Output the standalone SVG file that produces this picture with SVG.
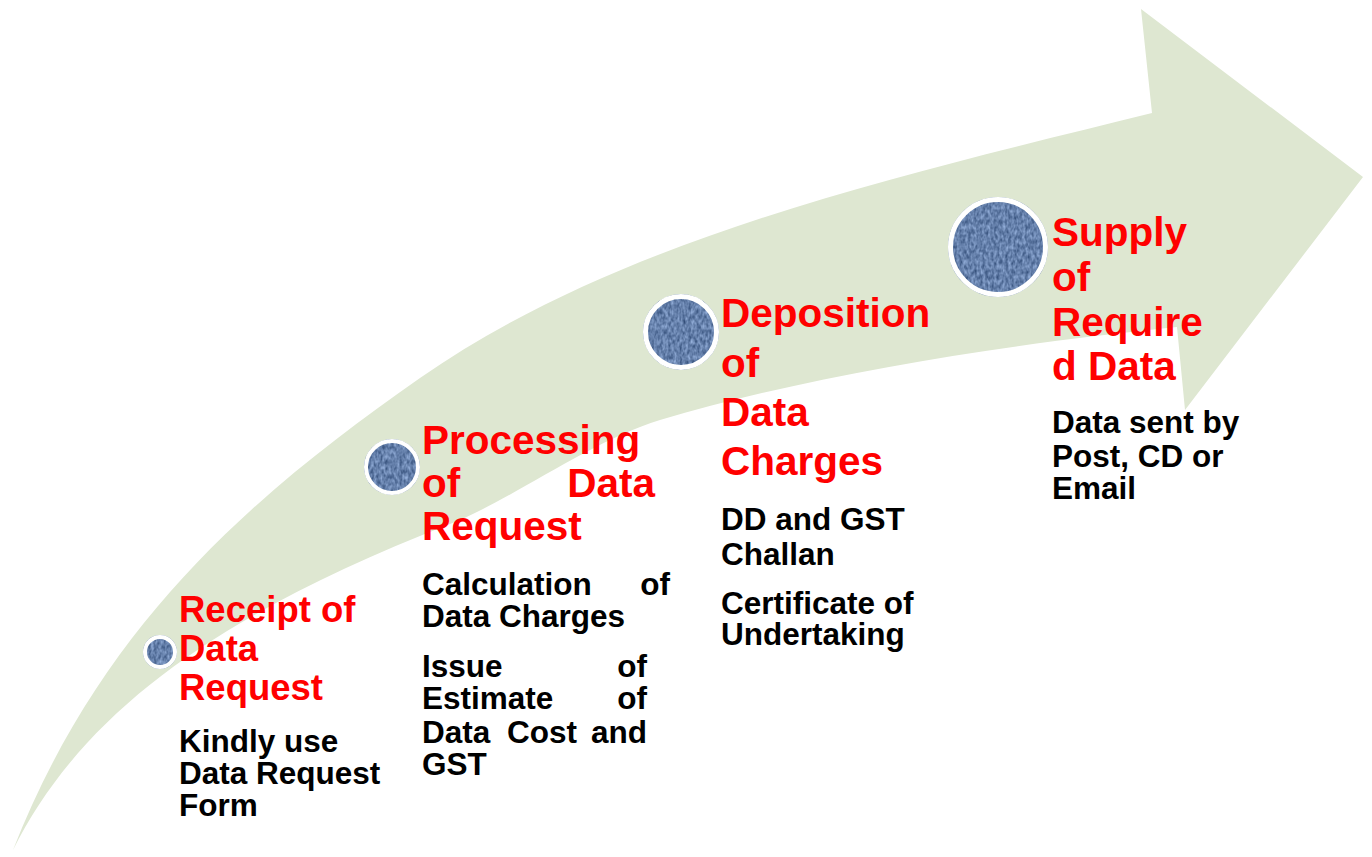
<svg xmlns="http://www.w3.org/2000/svg" width="1372" height="857" viewBox="0 0 1372 857">
<style>
.title{font-family:"Liberation Sans",Arial,sans-serif;font-weight:bold;fill:#ff0000;font-size:40.5px}
.body{font-family:"Liberation Sans",Arial,sans-serif;font-weight:bold;fill:#000000;font-size:31.5px}
.dot{fill:#5b80b8;filter:url(#denim)}
.ring{fill:none;stroke:#ffffff}
</style>
<defs>
<filter id="denim" x="0" y="0" width="100%" height="100%" color-interpolation-filters="sRGB">
<feTurbulence type="fractalNoise" baseFrequency="0.35 0.2" numOctaves="2" seed="4" result="n"/>
<feColorMatrix in="n" type="matrix" values="1 0 0 0 0  1 0 0 0 0  1 0 0 0 0  0 0 0 0 1" result="g"/>
<feFlood flood-color="#5b7fb8" result="f"/>
<feComposite in="f" in2="g" operator="arithmetic" k1="0" k2="0.75" k3="0.5" k4="-0.12" result="c"/>
<feComposite in="c" in2="SourceGraphic" operator="in"/>
</filter>
</defs>
<rect width="1372" height="857" fill="#ffffff"/>
<g id="arrow">
<path d="M13,850 C103,620 260,490 420,378 C620,238 902,175 1152,113 L1141,9 L1363,177 L1185,410 L1177,327 C1007,344 810,375 660,420 C590,441 510,501 450,524 C220,614 83,710 13,850 Z" fill="#dee7d1"/>
</g>
<g id="node-receipt">
<circle class="dot" cx="160" cy="652" r="17"/>
<circle class="ring" cx="160" cy="652" r="15" stroke-width="4"/>
<text class="title" style="font-size:36.5px" x="179" y="622">Receipt of</text>
<text class="title" style="font-size:36.5px" x="179" y="661">Data</text>
<text class="title" style="font-size:36.5px" x="179" y="700">Request</text>
<text class="body" x="179" y="752">Kindly use</text>
<text class="body" x="179" y="784">Data Request</text>
<text class="body" x="179" y="816">Form</text>
</g>
<g id="node-processing">
<circle class="dot" cx="392" cy="467" r="28"/>
<circle class="ring" cx="392" cy="467" r="26" stroke-width="4"/>
<text class="title" x="422" y="454">Processing</text>
<text class="title" x="422" y="497">of</text>
<text class="title" x="655" y="497" text-anchor="end">Data</text>
<text class="title" x="422" y="540">Request</text>
<text class="body" x="422" y="595">Calculation</text>
<text class="body" x="670" y="595" text-anchor="end">of</text>
<text class="body" x="422" y="627">Data Charges</text>
<text class="body" x="422" y="677">Issue</text>
<text class="body" x="647" y="677" text-anchor="end">of</text>
<text class="body" x="422" y="709">Estimate</text>
<text class="body" x="647" y="709" text-anchor="end">of</text>
<text class="body" x="422" y="743">Data</text>
<text class="body" x="507" y="743">Cost</text>
<text class="body" x="647" y="743" text-anchor="end">and</text>
<text class="body" x="422" y="775">GST</text>
</g>
<g id="node-deposition">
<circle class="dot" cx="681" cy="332" r="38"/>
<circle class="ring" cx="681" cy="332" r="35.5" stroke-width="5"/>
<text class="title" x="721" y="327">Deposition</text>
<text class="title" x="721" y="377">of</text>
<text class="title" x="721" y="426">Data</text>
<text class="title" x="721" y="475">Charges</text>
<text class="body" x="721" y="530">DD and GST</text>
<text class="body" x="721" y="565">Challan</text>
<text class="body" x="721" y="614">Certificate of</text>
<text class="body" x="721" y="645">Undertaking</text>
</g>
<g id="node-supply">
<circle class="dot" cx="998" cy="247" r="50"/>
<circle class="ring" cx="998" cy="247" r="47.5" stroke-width="5"/>
<text class="title" x="1052" y="246">Supply</text>
<text class="title" x="1052" y="291">of</text>
<text class="title" x="1052" y="336">Require</text>
<text class="title" x="1052" y="380">d Data</text>
<text class="body" x="1052" y="433">Data sent by</text>
<text class="body" x="1052" y="467">Post, CD or</text>
<text class="body" x="1052" y="499">Email</text>
</g>
</svg>
